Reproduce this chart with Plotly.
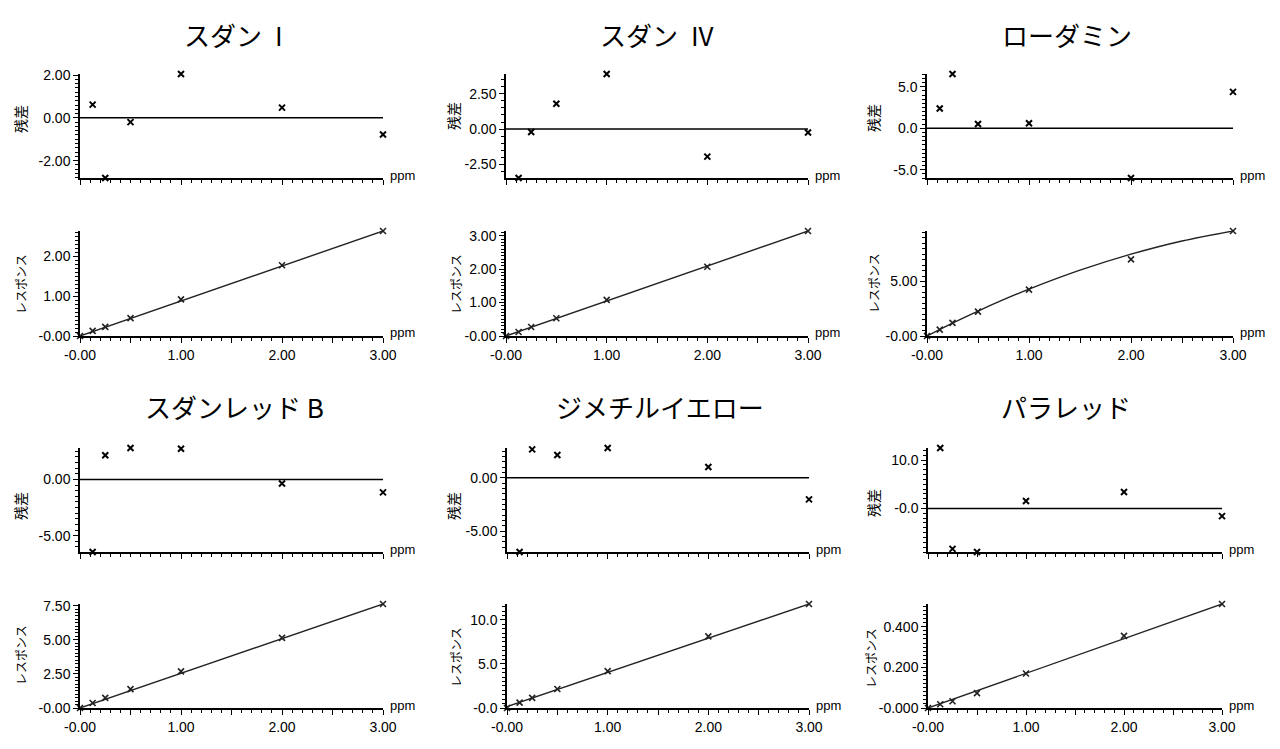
import plotly.graph_objects as go

W, H = 1280, 749
OFF = 8  # page body margin of the browser

# ---------------- data ----------------
conc = [0.0, 0.125, 0.25, 0.5, 1.0, 2.0, 3.0]          # ppm (calibration points)
res_conc = [0.125, 0.25, 0.5, 1.0, 2.0, 3.0]           # ppm (residual points)

titles = ["スダン\u2002I", "スダン\u2002IV", "ローダミン", "スダンレッド B", "ジメチルイエロー", "パラレッド"]

sudan1_resp = [0.0, 0.13, 0.23, 0.45, 0.92, 1.78, 2.64]
sudan1_res = [0.62, -2.81, -0.20, 2.05, 0.48, -0.78]
sudan4_resp = [0.0, 0.12, 0.27, 0.53, 1.08, 2.07, 3.14]
sudan4_res = [-3.46, -0.21, 1.79, 3.90, -1.95, -0.24]
rhod_resp = [0.0, 0.59, 1.21, 2.24, 4.26, 7.03, 9.64]
rhod_res = [2.39, 6.55, 0.52, 0.60, -6.00, 4.39]
redb_resp = [0.0, 0.37, 0.74, 1.38, 2.68, 5.14, 7.62]
redb_res = [-6.45, 2.15, 2.80, 2.74, -0.35, -1.15]
dmy_resp = [0.0, 0.61, 1.15, 2.15, 4.18, 8.12, 11.8]
dmy_res = [-6.95, 2.67, 2.14, 2.80, 1.02, -2.02]
para_resp = [0.0, 0.0185, 0.0335, 0.0735, 0.170, 0.355, 0.512]
para_res = [12.5, -8.36, -9.00, 1.56, 3.41, -1.58]

# fitted calibration curves
lin_fit_x = [0.0, 3.0]
sudan1_fit = [0.0, 2.64]
sudan4_fit = [0.0, 3.14]
redb_fit = [0.0, 7.62]
dmy_fit = [0.15, 11.8]
para_fit = [0.0, 0.512]
rhod_fit_x = [0.0, 0.25, 0.5, 0.75, 1.0, 1.5, 2.0, 2.5, 3.0]
rhod_fit = [0.0, 1.18, 2.29, 3.33, 4.30, 6.04, 7.51, 8.72, 9.64]

# tick labels
x_tickvals = [0.0, 0.5, 1.0, 1.5, 2.0, 2.5, 3.0]
x_ticktext = ["-0.00", "", "1.00", "", "2.00", "", "3.00"]

sudan1_res_tv = [-2, 0, 2];          sudan1_res_tt = ["-2.00", "0.00", "2.00"]
sudan1_cal_tv = [0, 1, 2];           sudan1_cal_tt = ["-0.00", "1.00", "2.00"]
sudan4_res_tv = [-2.5, 0, 2.5];      sudan4_res_tt = ["-2.50", "0.00", "2.50"]
sudan4_cal_tv = [0, 1, 2, 3];        sudan4_cal_tt = ["-0.00", "1.00", "2.00", "3.00"]
rhod_res_tv = [-5, 0, 5];            rhod_res_tt = ["-5.0", "0.0", "5.0"]
rhod_cal_tv = [0, 5];                rhod_cal_tt = ["-0.00", "5.00"]
redb_res_tv = [-5, 0];               redb_res_tt = ["-5.00", "0.00"]
redb_cal_tv = [0, 2.5, 5, 7.5];      redb_cal_tt = ["-0.00", "2.50", "5.00", "7.50"]
dmy_res_tv = [-5, 0];                dmy_res_tt = ["-5.00", "0.00"]
dmy_cal_tv = [0, 5, 10];             dmy_cal_tt = ["-0.0", "5.0", "10.0"]
para_res_tv = [0, 10];               para_res_tt = ["-0.0", "10.0"]
para_cal_tv = [0, 0.2, 0.4];         para_cal_tt = ["-0.000", "0.200", "0.400"]

panels = [
    dict(resp=sudan1_resp, res=sudan1_res, fx=lin_fit_x, fy=sudan1_fit,
         rtv=sudan1_res_tv, rtt=sudan1_res_tt, ctv=sudan1_cal_tv, ctt=sudan1_cal_tt,
         rminor=0.2, cminor=0.1, spline=False),
    dict(resp=sudan4_resp, res=sudan4_res, fx=lin_fit_x, fy=sudan4_fit,
         rtv=sudan4_res_tv, rtt=sudan4_res_tt, ctv=sudan4_cal_tv, ctt=sudan4_cal_tt,
         rminor=0.5, cminor=0.1, spline=False),
    dict(resp=rhod_resp, res=rhod_res, fx=rhod_fit_x, fy=rhod_fit,
         rtv=rhod_res_tv, rtt=rhod_res_tt, ctv=rhod_cal_tv, ctt=rhod_cal_tt,
         rminor=0.5, cminor=0.5, spline=True),
    dict(resp=redb_resp, res=redb_res, fx=lin_fit_x, fy=redb_fit,
         rtv=redb_res_tv, rtt=redb_res_tt, ctv=redb_cal_tv, ctt=redb_cal_tt,
         rminor=0.5, cminor=0.25, spline=False),
    dict(resp=dmy_resp, res=dmy_res, fx=lin_fit_x, fy=dmy_fit,
         rtv=dmy_res_tv, rtt=dmy_res_tt, ctv=dmy_cal_tv, ctt=dmy_cal_tt,
         rminor=0.5, cminor=0.5, spline=False),
    dict(resp=para_resp, res=para_res, fx=lin_fit_x, fy=para_fit,
         rtv=para_res_tv, rtt=para_res_tt, ctv=para_cal_tv, ctt=para_cal_tt,
         rminor=1.0, cminor=0.02, spline=False),
]

# ---------------- layout geometry (pixels in the screenshot) ----------------
xdom_px = [[(80, 383), (506, 808), (927, 1233)],
           [(80, 383), (507, 809), (928, 1222)]]
ydom_px = [[(74, 178), (231, 336)],
           [(448, 552), (604, 708)]]
title_pos = [(233, 35), (657, 35), (1067, 35), (234, 406), (660, 406), (1066, 406)]
res_lab_pos = [(20, 119), (453, 116), (873, 118), (20, 506), (453, 506), (873, 503)]
cal_lab_pos = [(20, 284), (455, 284), (874, 283), (20, 655), (455, 657), (870, 658)]

def px2x(p):
    return (p - OFF) / W

def px2y(p):
    return 1 - (p - OFF) / H

tick_font = dict(family="Liberation Sans, Arial, sans-serif", size=14, color="black")
jp = "Noto Sans CJK JP, sans-serif"

fig = go.Figure()
layout = dict(width=W, height=H, margin=dict(l=0, r=0, t=0, b=0, pad=0, autoexpand=False),
              paper_bgcolor="white", plot_bgcolor="white", showlegend=False,
              template="none")
annotations = []

def axis_common():
    return dict(showline=True, linecolor="black", linewidth=1.5, ticks="outside",
                ticklen=5, tickwidth=1.2, tickcolor="black", showgrid=False,
                zeroline=False, tickfont=tick_font, fixedrange=True, automargin=False)

for i, p in enumerate(panels):
    grp, col = divmod(i, 3)
    xd = xdom_px[grp][col]
    for k in range(2):  # 0: residual, 1: calibration
        n = 2 * i + k + 1
        sfx = "" if n == 1 else str(n)
        yd = ydom_px[grp][k]
        xa = axis_common()
        xa.update(domain=[px2x(xd[0]), px2x(xd[1])], anchor="y" + sfx,
                  range=[conc[0], conc[-1]], tickmode="array",
                  tickvals=x_tickvals, ticktext=x_ticktext,
                  showticklabels=(k == 1),
                  minor=dict(ticks="outside", ticklen=3, tickwidth=1,
                             tickcolor="black", dtick=0.1, tick0=0, showgrid=False))
        ya = axis_common()
        if k == 0:
            lo, hi = min(p["res"]), max(p["res"])
            tv, tt, mn = p["rtv"], p["rtt"], p["rminor"]
        else:
            lo, hi = 0.0, max(max(p["resp"]), max(p["fy"]))
            tv, tt, mn = p["ctv"], p["ctt"], p["cminor"]
        ya.update(domain=[px2y(yd[1]), px2y(yd[0])], anchor="x" + sfx,
                  range=[lo, hi], tickmode="array", tickvals=tv, ticktext=tt,
                  minor=dict(ticks="outside", ticklen=3, tickwidth=1,
                             tickcolor="black", dtick=mn, tick0=0, showgrid=False))
        layout["xaxis" + sfx] = xa
        layout["yaxis" + sfx] = ya

        if k == 0:
            fig.add_trace(go.Scatter(x=[conc[0], conc[-1]], y=[0, 0], mode="lines",
                                     line=dict(color="black", width=1.5),
                                     xaxis="x" + sfx, yaxis="y" + sfx, hoverinfo="skip"))
            fig.add_trace(go.Scatter(x=res_conc, y=p["res"], mode="markers",
                                     marker=dict(symbol="x-thin", size=6,
                                                 line=dict(width=2, color="black")),
                                     cliponaxis=False, xaxis="x" + sfx, yaxis="y" + sfx))
        else:
            fig.add_trace(go.Scatter(x=p["fx"], y=p["fy"], mode="lines",
                                     line=dict(color="#222222", width=1.4,
                                               shape="spline" if p["spline"] else "linear"),
                                     xaxis="x" + sfx, yaxis="y" + sfx, hoverinfo="skip"))
            fig.add_trace(go.Scatter(x=conc, y=p["resp"], mode="markers",
                                     marker=dict(symbol="x-thin", size=6,
                                                 line=dict(width=1.6, color="#222222")),
                                     cliponaxis=False, xaxis="x" + sfx, yaxis="y" + sfx))
        annotations.append(dict(text="ppm", xref="x" + sfx + " domain", x=1,
                                yref="y" + sfx + " domain", y=0, xanchor="left",
                                yanchor="middle", xshift=5, yshift=3, showarrow=False,
                                font=dict(family="Liberation Sans, Arial, sans-serif",
                                          size=13, color="black")))

    tx, ty = title_pos[i]
    annotations.append(dict(text=titles[i], xref="paper", yref="paper",
                            x=px2x(tx), y=px2y(ty), xanchor="center", yanchor="middle",
                            showarrow=False, font=dict(family=jp, size=26, color="black")))
    rx, ry = res_lab_pos[i]
    annotations.append(dict(text="残差", xref="paper", yref="paper", x=px2x(rx), y=px2y(ry),
                            xanchor="center", yanchor="middle", textangle=-90,
                            showarrow=False, font=dict(family=jp, size=14, color="black")))
    cx, cy = cal_lab_pos[i]
    annotations.append(dict(text="レスポンス", xref="paper", yref="paper", x=px2x(cx), y=px2y(cy),
                            xanchor="center", yanchor="middle", textangle=-90,
                            showarrow=False, font=dict(family=jp, size=12, color="black")))

layout["annotations"] = annotations
fig.update_layout(**layout)
fig.write_html("out.html")
